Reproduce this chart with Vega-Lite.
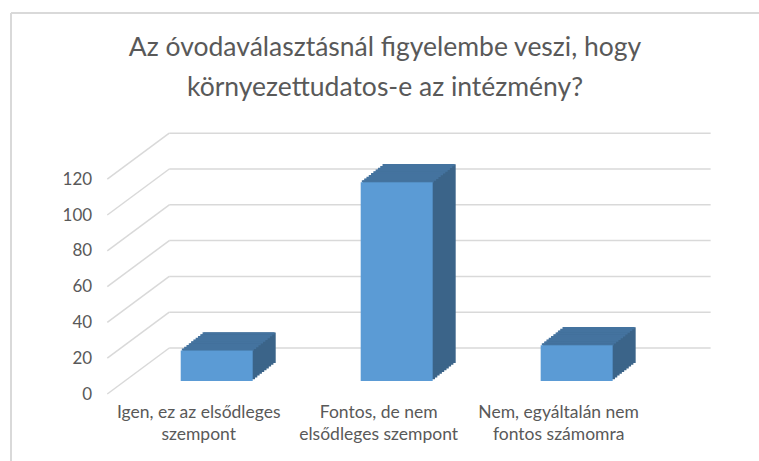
{
  "$schema": "https://vega.github.io/schema/vega-lite/v6.json",
  "width": 748,
  "height": 448,
  "autosize": {"type": "none"},
  "padding": {"left": 11, "top": 13, "right": 0, "bottom": 0},
  "config": {"view": {"stroke": null}, "font": "Lato"},
  "title": {
    "text": ["Az óvodaválasztásnál figyelembe veszi, hogy", "környezettudatos-e az intézmény?"],
    "anchor": "middle",
    "frame": "group",
    "offset": -110,
    "baseline": "alphabetic",
    "font": "Lato",
    "fontSize": 26.5,
    "fontWeight": "normal",
    "color": "#595959",
    "lineHeight": 40
  },
  "datasets": {
    "bars": [
      {"cat": "Igen, ez az elsődleges szempont", "v": 17},
      {"cat": "Fontos, de nem elsődleges szempont", "v": 111},
      {"cat": "Nem, egyáltalán nem fontos számomra", "v": 20}
    ],
    "ticks": [{"v": 0}, {"v": 20}, {"v": 40}, {"v": 60}, {"v": 80}, {"v": 100}, {"v": 120}]
  },
  "resolve": {"scale": {"x": "independent"}},
  "layer": [
    {
      "data": {"name": "ticks"},
      "encoding": {
        "y": {"field": "v", "type": "quantitative", "scale": {"domain": [-37.43, 212.85], "nice": false, "zero": false},
          "axis": {"values": [0, 20, 40, 60, 80, 100, 120], "orient": "left", "offset": -80.7, "ticks": false, "domain": false, "grid": false, "labelPadding": 0, "labelFont": "Lato", "labelFontSize": 17, "labelColor": "#595959", "title": null}}
      },
      "layer": [
        {
          "mark": {"type": "rule", "color": "#d9d9d9", "strokeWidth": 1.5, "yOffset": -46},
          "encoding": {
            "x": {"datum": 2.553, "type": "quantitative", "scale": {"domain": [0, 12.065], "nice": false, "zero": false}, "axis": null},
            "x2": {"datum": 11.285}
          }
        },
        {
          "mark": {"type": "rule", "color": "#d9d9d9", "strokeWidth": 1.5, "y2Offset": -46},
          "encoding": {
            "x": {"datum": 1.553, "type": "quantitative"},
            "x2": {"datum": 2.553},
            "y2": {"field": "v"}
          }
        },
        {
          "mark": {"type": "rule", "color": "#d9d9d9", "strokeWidth": 1.5},
          "encoding": {
            "x": {"datum": 0, "type": "quantitative"},
            "y": {"datum": -37.43, "type": "quantitative"},
            "y2": {"datum": 212.85}
          }
        },
        {
          "mark": {"type": "rule", "color": "#d9d9d9", "strokeWidth": 1.5},
          "encoding": {
            "x": {"datum": 0, "type": "quantitative"},
            "x2": {"datum": 12.065},
            "y": {"datum": 212.85, "type": "quantitative"}
          }
        }
      ]
    },
    {
      "data": {"name": "bars"},
      "encoding": {
        "x": {"field": "cat", "type": "nominal", "sort": null,
          "scale": {"paddingInner": 0.6, "paddingOuter": 0.878, "align": 0.537},
          "axis": {"orient": "bottom", "offset": -58, "ticks": false, "domain": false, "grid": false, "labelPadding": 0, "labelAngle": 0, "labelOffset": -18, "labelFont": "Lato", "labelFontSize": 17.5, "labelColor": "#595959", "labelLineHeight": 22, "labelLimit": 300, "title": null,
            "labelExpr": "datum.value == 'Igen, ez az elsődleges szempont' ? ['Igen, ez az elsődleges', 'szempont'] : datum.value == 'Fontos, de nem elsődleges szempont' ? ['Fontos, de nem', 'elsődleges szempont'] : ['Nem, egyáltalán nem', 'fontos számomra']"}},
        "y": {"field": "v", "type": "quantitative"}
      },
      "layer": [
        {"mark": {"type": "bar", "color": "#3b6489", "xOffset": 2.3, "yOffset": -14.8, "y2Offset": -14.8}, "encoding": {"y2": {"datum": 0}}},
        {"mark": {"type": "bar", "color": "#3b6489", "xOffset": 4.6, "yOffset": -16.6, "y2Offset": -16.6}, "encoding": {"y2": {"datum": 0}}},
        {"mark": {"type": "bar", "color": "#3b6489", "xOffset": 6.9, "yOffset": -18.4, "y2Offset": -18.4}, "encoding": {"y2": {"datum": 0}}},
        {"mark": {"type": "bar", "color": "#3b6489", "xOffset": 9.2, "yOffset": -20.2, "y2Offset": -20.2}, "encoding": {"y2": {"datum": 0}}},
        {"mark": {"type": "bar", "color": "#3b6489", "xOffset": 11.5, "yOffset": -22, "y2Offset": -22}, "encoding": {"y2": {"datum": 0}}},
        {"mark": {"type": "bar", "color": "#3b6489", "xOffset": 13.8, "yOffset": -23.8, "y2Offset": -23.8}, "encoding": {"y2": {"datum": 0}}},
        {"mark": {"type": "bar", "color": "#3b6489", "xOffset": 16.1, "yOffset": -25.6, "y2Offset": -25.6}, "encoding": {"y2": {"datum": 0}}},
        {"mark": {"type": "bar", "color": "#3b6489", "xOffset": 18.4, "yOffset": -27.4, "y2Offset": -27.4}, "encoding": {"y2": {"datum": 0}}},
        {"mark": {"type": "bar", "color": "#3b6489", "xOffset": 20.7, "yOffset": -29.2, "y2Offset": -29.2}, "encoding": {"y2": {"datum": 0}}},
        {"mark": {"type": "bar", "color": "#3b6489", "xOffset": 23, "yOffset": -31, "y2Offset": -31}, "encoding": {"y2": {"datum": 0}}},
        {"mark": {"type": "bar", "color": "#44739f", "xOffset": 1.15, "yOffset": -15.0, "y2Offset": -12.8}, "encoding": {"y2": {"field": "v"}}},
        {"mark": {"type": "bar", "color": "#44739f", "xOffset": 3.45, "yOffset": -16.8, "y2Offset": -14.6}, "encoding": {"y2": {"field": "v"}}},
        {"mark": {"type": "bar", "color": "#44739f", "xOffset": 5.75, "yOffset": -18.6, "y2Offset": -16.4}, "encoding": {"y2": {"field": "v"}}},
        {"mark": {"type": "bar", "color": "#44739f", "xOffset": 8.05, "yOffset": -20.4, "y2Offset": -18.2}, "encoding": {"y2": {"field": "v"}}},
        {"mark": {"type": "bar", "color": "#44739f", "xOffset": 10.35, "yOffset": -22.2, "y2Offset": -20.0}, "encoding": {"y2": {"field": "v"}}},
        {"mark": {"type": "bar", "color": "#44739f", "xOffset": 12.65, "yOffset": -24.0, "y2Offset": -21.8}, "encoding": {"y2": {"field": "v"}}},
        {"mark": {"type": "bar", "color": "#44739f", "xOffset": 14.95, "yOffset": -25.8, "y2Offset": -23.6}, "encoding": {"y2": {"field": "v"}}},
        {"mark": {"type": "bar", "color": "#44739f", "xOffset": 17.25, "yOffset": -27.6, "y2Offset": -25.4}, "encoding": {"y2": {"field": "v"}}},
        {"mark": {"type": "bar", "color": "#44739f", "xOffset": 19.55, "yOffset": -29.4, "y2Offset": -27.2}, "encoding": {"y2": {"field": "v"}}},
        {"mark": {"type": "bar", "color": "#44739f", "xOffset": 21.85, "yOffset": -31.2, "y2Offset": -29.0}, "encoding": {"y2": {"field": "v"}}},
        {"mark": {"type": "bar", "color": "#5b9bd5", "yOffset": -13, "y2Offset": -13}, "encoding": {"y2": {"datum": 0}}}
      ]
    }
  ]
}
